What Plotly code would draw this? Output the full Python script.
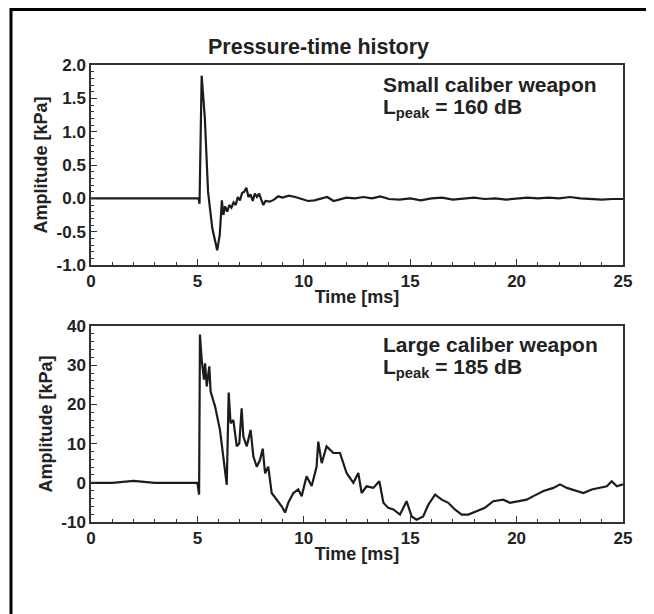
import plotly.graph_objects as go

# ---------------- data ----------------
t_small = [0, 1, 2, 3, 4, 4.8, 5.05, 5.1, 5.2, 5.35, 5.5, 5.7, 5.93, 6.05, 6.15, 6.22,
           6.3, 6.4, 6.5, 6.6, 6.7, 6.8, 6.9, 7.0, 7.1, 7.2, 7.3, 7.4, 7.5, 7.6, 7.7,
           7.8, 7.9, 8.0, 8.1, 8.2, 8.4, 8.6, 8.8, 9.0, 9.3, 9.6, 9.9, 10.2, 10.5, 10.8,
           11.1, 11.4, 11.7, 12.0, 12.4, 12.8, 13.2, 13.6, 14.0, 14.5, 15.0, 15.5, 16.0,
           16.5, 17.0, 17.5, 18.0, 18.5, 19.0, 19.5, 20.0, 20.5, 21.0, 21.5, 22.0, 22.5,
           23.0, 23.5, 24.0, 24.5, 25.0]
v_small = [0.0, 0.0, 0.01, 0.0, 0.0, 0.0, 0.0, -0.08, 1.84, 1.2, 0.1, -0.45, -0.78, -0.55,
           -0.03, -0.25, -0.12, -0.2, -0.1, -0.14, -0.06, -0.1, 0.02, -0.03, 0.08, 0.1,
           0.16, 0.02, 0.06, -0.04, 0.07, 0.02, 0.07, -0.02, -0.1, -0.04, -0.05, -0.02,
           0.03, 0.01, 0.04, 0.02, -0.01, -0.04, -0.03, 0.0, 0.02, -0.04, -0.02, 0.01,
           0.0, 0.02, 0.0, 0.03, -0.01, -0.02, 0.0, -0.03, 0.0, 0.01, -0.02, 0.0, 0.01,
           -0.01, 0.0, -0.02, 0.0, 0.01, 0.0, 0.01, 0.0, 0.02, 0.0, -0.01, -0.02, -0.01,
           -0.01]

t_large = [0, 1, 2, 3, 4, 5.0, 5.08, 5.12, 5.2, 5.31, 5.36, 5.44, 5.56, 5.62, 5.83, 6.06,
           6.38, 6.47, 6.56, 6.69, 6.85, 6.97, 7.08, 7.16, 7.32, 7.5, 7.63, 7.79, 7.94,
           8.07, 8.18, 8.33, 8.49, 8.72, 8.96, 9.12, 9.27, 9.51, 9.74, 9.9, 10.13, 10.37,
           10.6, 10.68, 10.84, 11.07, 11.39, 11.7, 12.01, 12.33, 12.56, 12.72, 12.95,
           13.27, 13.55, 13.74, 13.97, 14.21, 14.52, 14.83, 15.07, 15.3, 15.61, 15.85,
           16.17, 16.48, 16.79, 17.1, 17.42, 17.73, 18.12, 18.51, 18.9, 19.37, 19.69,
           20.08, 20.47, 20.79, 21.26, 21.73, 22.04, 22.36, 22.83, 23.14, 23.53, 23.92,
           24.24, 24.47, 24.71, 25.0]
v_large = [0, 0, 0.5, 0, 0, 0, -3, 37.8, 31.4, 26.3, 30.5, 24.6, 29.7, 23.3, 19.5, 13.5,
           -0.5, 23, 15.2, 16, 9.3, 10.1, 19, 11.8, 9.3, 13.5, 6.7, 4.1, 5.8, 8.7, 2.4,
           4.1, -2.6, -4.3, -6, -7.6, -5.1, -2.6, -1.7, -3.4, 1.7, -0.8, 4.1, 10.5, 5,
           9.3, 7.6, 7.6, 2.5, 0, 2.5, -2.6, -0.9, -1.3, 0.4, -5.1, -6.4, -6.8, -8.1,
           -4.7, -8.6, -9.4, -8.6, -5.6, -3, -4.3, -5.1, -6.8, -8.1, -8.1, -7.3, -6.4,
           -4.7, -4.3, -5.1, -4.7, -4.3, -3.4, -2.1, -1.3, -0.4, -1.3, -2.1, -2.6, -1.7,
           -1.3, -0.9, 0.4, -0.9, -0.4]

x_ticks = [0, 5, 10, 15, 20, 25]
y_ticks_small = [-1.0, -0.5, 0.0, 0.5, 1.0, 1.5, 2.0]
y_ticks_large = [-10, 0, 10, 20, 30, 40]

title_text = "Pressure-time history"
label_small = ["Small caliber weapon", "L<sub>peak</sub> = 160 dB"]
label_large = ["Large caliber weapon", "L<sub>peak</sub> = 185 dB"]

# ---------------- layout geometry ----------------
W, H = 654, 614
OFF = 8  # page body margin
FONT = "Liberation Sans, Arial, sans-serif"
TXT = "#222222"

def px_x(p):
    return (p - OFF) / W

def px_y(p):
    return 1 - (p - OFF) / H

x_dom = [px_x(91), px_x(623)]
y_dom_top = [px_y(265), px_y(65)]
y_dom_bot = [px_y(522), px_y(326)]

line_style = dict(color="#1c1c1c", width=2.2)

fig = go.Figure()
fig.add_trace(go.Scatter(x=t_small, y=v_small, mode="lines", line=line_style,
                         xaxis="x", yaxis="y", showlegend=False, hoverinfo="skip"))
fig.add_trace(go.Scatter(x=t_large, y=v_large, mode="lines", line=line_style,
                         xaxis="x2", yaxis="y2", showlegend=False, hoverinfo="skip"))

tickfont = dict(family=FONT, size=17, color=TXT, weight="bold")
titlefont = dict(family=FONT, size=18, color=TXT, weight="bold")

def xaxis(domain, anchor):
    return dict(domain=domain, anchor=anchor, range=[0, 25], tickvals=x_ticks,
                ticktext=[str(v) for v in x_ticks], ticks="inside", ticklen=6,
                tickwidth=1.3, tickcolor="#333", showline=True, linecolor="#333",
                linewidth=1.5, mirror=True, showgrid=False, zeroline=False,
                tickfont=tickfont, automargin=False, fixedrange=True,
                minor=dict(ticks="inside", dtick=1, ticklen=3, tickcolor="#333",
                           tickwidth=1, showgrid=False),
                title=dict(text="Time [ms]", font=titlefont, standoff=0))

def yaxis(domain, anchor, rng, tv, fmt, mdt):
    return dict(domain=domain, anchor=anchor, range=rng, tickvals=tv,
                ticktext=[fmt(v) for v in tv], ticks="inside", ticklen=6,
                tickwidth=1.3, tickcolor="#333", showline=True, linecolor="#333",
                linewidth=1.5, mirror=True, showgrid=False, zeroline=False,
                tickfont=tickfont, automargin=False, fixedrange=True,
                minor=dict(ticks="inside", dtick=mdt, ticklen=3, tickcolor="#333",
                           tickwidth=1, showgrid=False),
                title=dict(text="Amplitude [kPa]", font=titlefont, standoff=4))

fig.update_layout(
    width=W, height=H,
    margin=dict(l=0, r=0, t=0, b=0),
    paper_bgcolor="white", plot_bgcolor="white",
    xaxis=xaxis(x_dom, "y"),
    yaxis=yaxis(y_dom_top, "x", [-1.0, 2.0], y_ticks_small, lambda v: f"{v:.1f}", 0.1),
    xaxis2=xaxis(x_dom, "y2"),
    yaxis2=yaxis(y_dom_bot, "x2", [-10, 40], y_ticks_large, lambda v: f"{v:d}", 2),
    showlegend=False,
)

annos = [
    dict(text=title_text, x=px_x(318), y=px_y(47), xref="paper", yref="paper",
         showarrow=False, xanchor="center", yanchor="middle",
         font=dict(family=FONT, size=21.5, color=TXT, weight="bold")),
]
for lab, y0 in ((label_small, 84), (label_large, 344)):
    annos.append(dict(text=lab[0], x=px_x(381), y=px_y(y0), xref="paper", yref="paper",
                      showarrow=False, xanchor="left", yanchor="middle",
                      font=dict(family=FONT, size=21, color=TXT, weight="bold")))
    annos.append(dict(text=lab[1], x=px_x(381), y=px_y(y0 + 24), xref="paper",
                      yref="paper", showarrow=False, xanchor="left", yanchor="middle",
                      font=dict(family=FONT, size=21, color=TXT, weight="bold")))
fig.update_layout(annotations=annos)

# outer black frame of the figure panel
fig.add_shape(type="rect", xref="paper", yref="paper",
              x0=px_x(11), x1=px_x(652), y0=px_y(680), y1=px_y(9.5),
              line=dict(color="black", width=3), fillcolor="rgba(0,0,0,0)")

fig.write_html("out.html")
